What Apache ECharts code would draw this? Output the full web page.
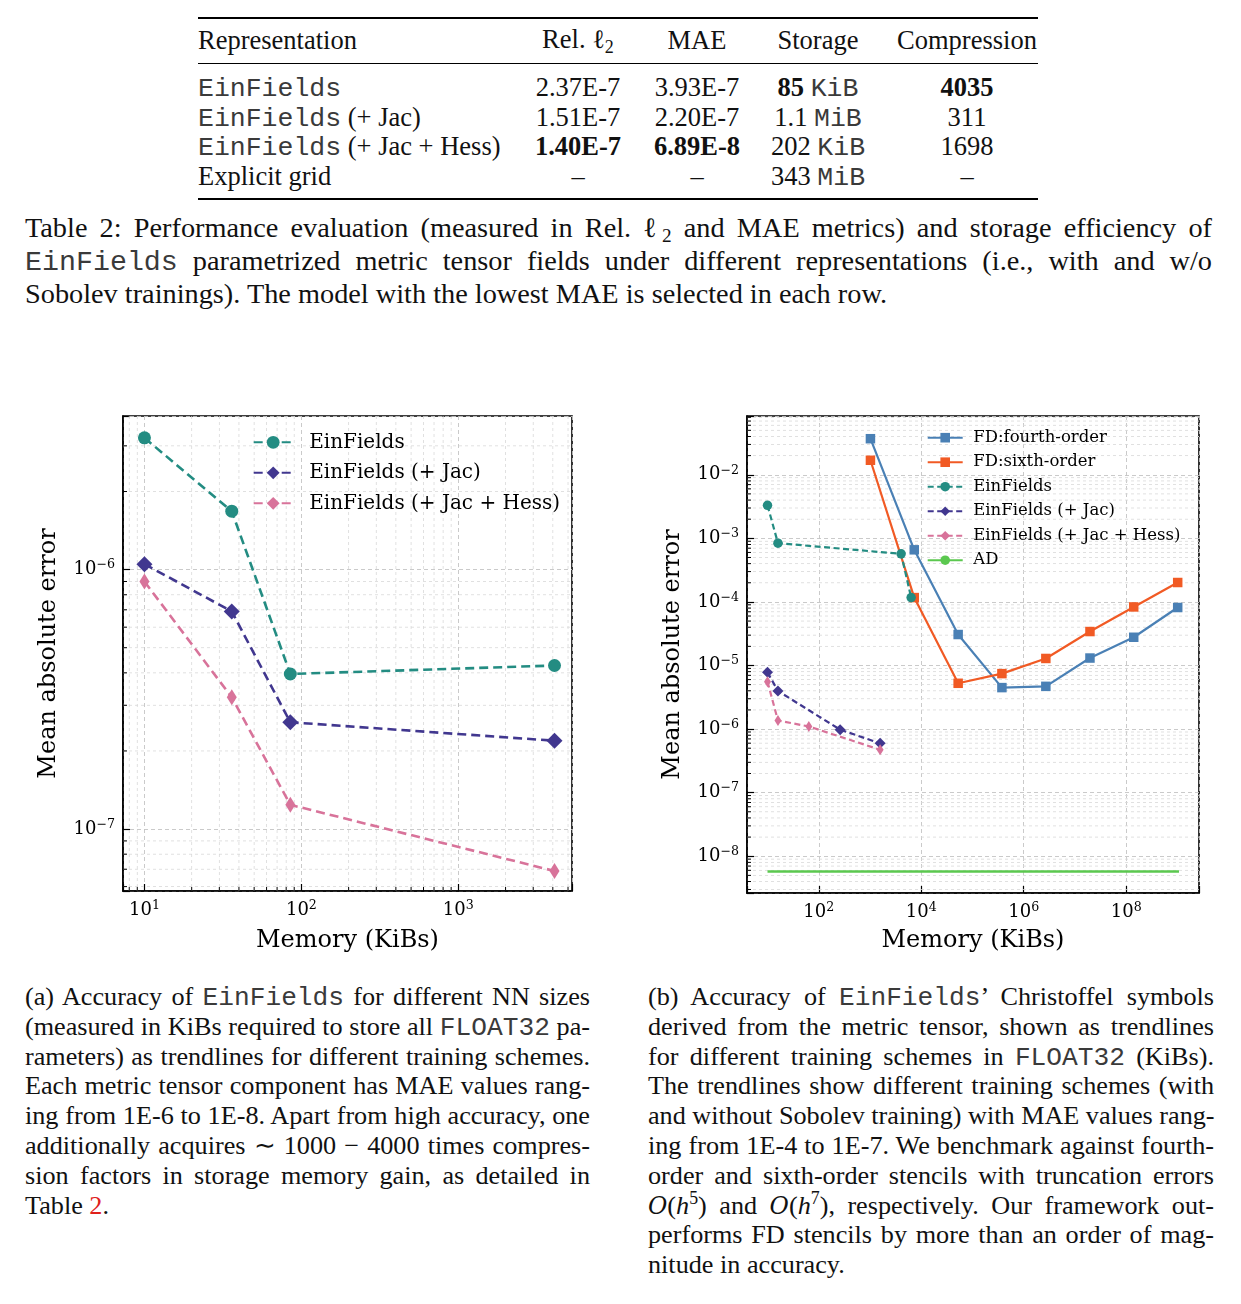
<!DOCTYPE html>
<html><head><meta charset="utf-8">
<script src="https://cdn.jsdelivr.net/npm/echarts@6/dist/echarts.min.js"></script>
<style>
html,body{margin:0;padding:0;background:#fff;}
body{width:1241px;height:1304px;position:relative;overflow:hidden;font-family:"Liberation Serif","Times New Roman",serif;color:#111;}
.tt{font-family:"Liberation Mono",monospace;color:#3a3a3a;}
#tbl{position:absolute;left:198px;top:17px;width:840px;border-collapse:collapse;table-layout:fixed;font-size:26.5px;}
#tbl td,#tbl th{padding:0;font-weight:normal;text-align:center;white-space:nowrap;line-height:29.7px;}
#tbl td *,#tbl th *{line-height:1;}
#tbl td.c0,#tbl th.c0{text-align:left;}
#tbl .c4{padding-left:28px;}
#tbl thead tr{height:45px;border-top:2.2px solid #000;border-bottom:1.2px solid #000;}
#tbl tbody tr.row td{height:29.7px;}
#tbl tbody tr.sp td{height:9.5px;line-height:0;font-size:0;}
#tbl tbody tr.spb td{height:6.5px;line-height:0;font-size:0;}
#tbl tbody tr.spb{border-bottom:2.2px solid #000;}
#tbl b{font-weight:bold;}
sub{font-size:0.68em;vertical-align:-0.28em;line-height:0;}
sup{font-size:0.68em;vertical-align:0.55em;line-height:0;}
.cap{position:absolute;}
.cap div{white-space:nowrap;text-align:justify;text-align-last:justify;}
.cap div.last{text-align-last:left;}
#cap2{left:25px;top:210.5px;width:1187px;font-size:28.3px;}
#cap2 div{height:33px;line-height:33px;}
#capA{left:25px;top:982px;width:565px;font-size:26.2px;}
#capB{left:648px;top:982px;width:566px;font-size:26.2px;}
#capA div,#capB div{height:29.8px;line-height:29.8px;}
.red{color:#e0201b;}
.cal{font-style:italic;font-family:"DejaVu Serif",serif;font-size:0.9em;}
#chartA{position:absolute;left:0;top:400px;width:620px;height:570px;}
#chartB{position:absolute;left:620px;top:400px;width:621px;height:570px;}
</style>
</head>
<body>
<table id="tbl"><thead></thead><tbody></tbody></table>

<div id="cap2" class="cap">
<div>Table 2: Performance evaluation (measured in Rel. ℓ<sub>2</sub> and MAE metrics) and storage efficiency of</div>
<div><span class="tt">EinFields</span> parametrized metric tensor fields under different representations (i.e., with and w/o</div>
<div class="last">Sobolev trainings). The model with the lowest MAE is selected in each row.</div>
</div>

<div id="chartA"></div>
<div id="chartB"></div>

<div id="capA" class="cap">
<div>(a) Accuracy of <span class="tt">EinFields</span> for different NN sizes</div>
<div>(measured in KiBs required to store all <span class="tt">FLOAT32</span> pa-</div>
<div>rameters) as trendlines for different training schemes.</div>
<div>Each metric tensor component has MAE values rang-</div>
<div>ing from 1E-6 to 1E-8. Apart from high accuracy, one</div>
<div>additionally acquires ∼ 1000 − 4000 times compres-</div>
<div>sion factors in storage memory gain, as detailed in</div>
<div class="last">Table <span class="red">2</span>.</div>
</div>

<div id="capB" class="cap">
<div>(b) Accuracy of <span class="tt">EinFields</span>’ Christoffel symbols</div>
<div>derived from the metric tensor, shown as trendlines</div>
<div>for different training schemes in <span class="tt">FLOAT32</span> (KiBs).</div>
<div>The trendlines show different training schemes (with</div>
<div>and without Sobolev training) with MAE values rang-</div>
<div>ing from 1E-4 to 1E-7. We benchmark against fourth-</div>
<div>order and sixth-order stencils with truncation errors</div>
<div><span class="cal">O</span>(<i>h</i><sup>5</sup>) and <span class="cal">O</span>(<i>h</i><sup>7</sup>), respectively. Our framework out-</div>
<div>performs FD stencils by more than an order of mag-</div>
<div class="last">nitude in accuracy.</div>
</div>

<script>
// ---------- Table data ----------
const tableHeader = ['Representation', 'Rel. ℓ2', 'MAE', 'Storage', 'Compression'];
const tableRep = ['EinFields', 'EinFields (+ Jac)', 'EinFields (+ Jac + Hess)', 'Explicit grid'];
const tableRel = ['2.37E-7', '1.51E-7', '1.40E-7', '–'];
const tableMAE = ['3.93E-7', '2.20E-7', '6.89E-8', '–'];
const tableStorageNum = ['85', '1.1', '202', '343'];
const tableStorageUnit = ['KiB', 'MiB', 'KiB', 'MiB'];
const tableCompression = ['4035', '311', '1698', '–'];
const boldRel = [2], boldMAE = [2], boldStorage = [0], boldComp = [0];

// ---------- Chart (a) data ----------
const memA = [10, 36, 85, 4100];
const maeA_Ein = [3.22e-6, 1.68e-6, 3.96e-7, 4.27e-7];
const maeA_Jac = [1.05e-6, 6.9e-7, 2.58e-7, 2.19e-7];
const maeA_Hess = [9.0e-7, 3.22e-7, 1.24e-7, 6.89e-8];

// ---------- Chart (b) data ----------
const memFD = [1.02e3, 7.3e3, 5.25e4, 3.75e5, 2.7e6, 1.96e7, 1.4e8, 1.01e9];
const maeFD4 = [3.69e-2, 6.6e-4, 3.07e-5, 4.49e-6, 4.7e-6, 1.31e-5, 2.78e-5, 8.17e-5];
const maeFD6 = [1.69e-2, 1.17e-4, 5.25e-6, 7.45e-6, 1.29e-5, 3.42e-5, 8.34e-5, 2.02e-4];
const memB_Ein = [10, 16, 4.05e3, 6.35e3];
const maeB_Ein = [3.3e-3, 8.4e-4, 5.7e-4, 1.17e-4];
const memB_Jac = [10, 16, 261, 1575];
const maeB_Jac = [7.8e-6, 3.97e-6, 9.8e-7, 5.96e-7];
const memB_Hess = [10, 16, 64, 1575];
const maeB_Hess = [5.57e-6, 1.36e-6, 1.10e-6, 4.73e-7];
const memAD = [10, 1.07e9];
const maeAD = [5.74e-9, 5.74e-9];

// ---------- minor tick helpers ----------
const minorMant = [2, 3, 4, 5, 6, 7, 8, 9];
const decA_x = [1, 10, 100, 1000];
const decA_y = [1e-8, 1e-7, 1e-6];
const decB_y = [1e-9, 1e-8, 1e-7, 1e-6, 1e-5, 1e-4, 1e-3, 1e-2];

// ---------- build table ----------
(function(){
  const mono = s => s.startsWith('EinFields') ? '<span class="tt">EinFields</span>' + s.slice(9) : s;
  const thead = document.querySelector('#tbl thead');
  const hdr = tableHeader.map((h, i) => {
    const t = h === 'Rel. ℓ2' ? 'Rel. ℓ<sub>2</sub>' : h;
    return '<th class="c' + i + '">' + t + '</th>';
  }).join('');
  thead.innerHTML = '<tr>' + hdr + '</tr>';
  const colg = document.createElement('colgroup');
  [332, 96, 142, 100, 170].forEach(w => { const c = document.createElement('col'); c.style.width = w + 'px'; colg.appendChild(c); });
  document.getElementById('tbl').insertBefore(colg, thead);
  const b = (s, on) => on ? '<b>' + s + '</b>' : s;
  let rows = '<tr class="sp"><td colspan="5"></td></tr>';
  tableRep.forEach((r, i) => {
    rows += '<tr class="row">' +
      '<td class="c0">' + mono(r) + '</td>' +
      '<td class="c1">' + b(tableRel[i], boldRel.includes(i)) + '</td>' +
      '<td class="c2">' + b(tableMAE[i], boldMAE.includes(i)) + '</td>' +
      '<td class="c3">' + b(tableStorageNum[i], boldStorage.includes(i)) + ' <span class="tt">' + tableStorageUnit[i] + '</span></td>' +
      '<td class="c4">' + b(tableCompression[i], boldComp.includes(i)) + '</td></tr>';
  });
  rows += '<tr class="spb"><td colspan="5"></td></tr>';
  document.querySelector('#tbl tbody').innerHTML = rows;
})();

// ---------- charts ----------
const SERIF = 'DejaVu Serif';
const TEAL = '#238c82', PURPLE = '#41378f', PINK = '#d8739a', BLUE = '#4a80b5', ORANGE = '#f15a24', GREEN = '#5bc84f';

function powLabel(v) {
  const l = Math.log10(v);
  const e = Math.round(l);
  if (Math.abs(l - e) > 1e-6) return '';
  const s = e < 0 ? '\u2212' + (-e) : String(e);
  return '{b|10}{e|' + s + '}';
}
function rich(fs) {
  return {
    b: {fontFamily: SERIF, fontSize: fs, color: '#000', lineHeight: fs + 4},
    e: {fontFamily: SERIF, fontSize: fs * 0.7, color: '#000', lineHeight: fs * 0.6, verticalAlign: 'top'}
  };
}
function minorList(decs, mant, lo, hi) {
  const out = [];
  decs.forEach(d => mant.forEach(m => { const v = m * d; if (v > lo && v < hi) out.push(v); }));
  return out;
}
function pairs(xs, ys) { return xs.map((x, i) => [x, ys[i]]); }

function axisBase(fs) {
  return {
    axisLine: {show: true, lineStyle: {color: '#000', width: 1.6}},
    axisTick: {show: true, inside: true, length: 7, lineStyle: {color: '#000', width: 1.2}},
    axisLabel: {formatter: powLabel, rich: rich(fs), color: '#000'},
    splitLine: {show: true, lineStyle: {type: [4, 3], color: '#c4c4c4', width: 0.9}},
    nameLocation: 'middle',
    nameTextStyle: {fontFamily: SERIF, fontSize: 24, color: '#000'}
  };
}
// minor grid lines + minor ticks, positioned through the axes (api.coord)
function minorGrid(vals, dir, ref) {
  return {
    type: 'custom', silent: true, z: 1, animation: false, clip: false,
    data: vals.map(v => dir === 'h' ? [ref, v] : [v, ref]),
    renderItem: function (params, api) {
      const cs = params.coordSys;
      const p = api.coord([api.value(0), api.value(1)]);
      const gs = {stroke: '#d9d9d9', lineWidth: 0.8, lineDash: [3, 3], fill: null};
      const ts = {stroke: '#000', lineWidth: 1, fill: null};
      if (dir === 'h') {
        return {type: 'group', children: [
          {type: 'line', shape: {x1: cs.x, y1: p[1], x2: cs.x + cs.width, y2: p[1]}, style: gs},
          {type: 'line', shape: {x1: cs.x, y1: p[1], x2: cs.x + 4, y2: p[1]}, style: ts}
        ]};
      }
      return {type: 'group', children: [
        {type: 'line', shape: {x1: p[0], y1: cs.y, x2: p[0], y2: cs.y + cs.height}, style: gs},
        {type: 'line', shape: {x1: p[0], y1: cs.y + cs.height - 4, x2: p[0], y2: cs.y + cs.height}, style: ts}
      ]};
    }
  };
}

// Chart A
const xMinA = 7.3, xMaxA = 5300, yMinA = 5.77e-8, yMaxA = 3.91e-6;
const chartA = echarts.init(document.getElementById('chartA'), null, {renderer: 'canvas'});
chartA.setOption({
  animation: false,
  grid: {left: 123, top: 16, width: 449, height: 475, show: true, borderColor: '#000', borderWidth: 1.6, backgroundColor: 'transparent', outerBoundsMode: 'none'},
  legend: {
    orient: 'vertical', left: 252.7, top: 31.3, padding: 0, itemWidth: 39, itemHeight: 16, itemGap: 8.5,
    textStyle: {fontFamily: SERIF, fontSize: 20, color: '#000', lineHeight: 22, padding: [0, 0, 0, 11.5]},
    data: ['EinFields', 'EinFields (+ Jac)', 'EinFields (+ Jac + Hess)'],
    selectedMode: false
  },
  xAxis: Object.assign(axisBase(18), {type: 'log', logBase: 10, min: xMinA, max: xMaxA, name: 'Memory (KiBs)', nameGap: 38}),
  yAxis: Object.assign(axisBase(18), {type: 'log', logBase: 10, min: yMinA, max: yMaxA, name: 'Mean absolute error', nameGap: 62}),
  series: [
    minorGrid(minorList(decA_x, minorMant, xMinA, xMaxA), 'v', yMinA),
    minorGrid(minorList(decA_y, minorMant, yMinA, yMaxA), 'h', xMinA),
    {name: 'EinFields', type: 'line', data: pairs(memA, maeA_Ein), symbol: 'circle', symbolSize: 13,
     lineStyle: {color: TEAL, width: 2.6, type: [9, 5]}, itemStyle: {color: TEAL}, z: 3},
    {name: 'EinFields (+ Jac)', type: 'line', data: pairs(memA, maeA_Jac), symbol: 'diamond', symbolSize: 16,
     lineStyle: {color: PURPLE, width: 2.6, type: [9, 5]}, itemStyle: {color: PURPLE}, z: 3},
    {name: 'EinFields (+ Jac + Hess)', type: 'line', data: pairs(memA, maeA_Hess), symbol: 'diamond', symbolSize: [10, 16],
     lineStyle: {color: PINK, width: 2.6, type: [9, 5]}, itemStyle: {color: PINK}, z: 3}
  ]
});

// Chart B
const xMinB = 3.98, xMaxB = 2.63e9, yMinB = 2.64e-9, yMaxB = 8.4e-2;
const chartB = echarts.init(document.getElementById('chartB'), null, {renderer: 'canvas'});
chartB.setOption({
  animation: false,
  grid: {left: 127, top: 16, width: 452, height: 477, show: true, borderColor: '#000', borderWidth: 1.6, backgroundColor: 'transparent', outerBoundsMode: 'none'},
  legend: {
    orient: 'vertical', left: 306.7, top: 29.2, padding: 0, itemWidth: 35, itemHeight: 12, itemGap: 7.5,
    textStyle: {fontFamily: SERIF, fontSize: 16.5, color: '#000', lineHeight: 17, padding: [0, 0, 0, 5.6]},
    data: ['FD:fourth-order', 'FD:sixth-order', 'EinFields', 'EinFields (+ Jac)', 'EinFields (+ Jac + Hess)', 'AD'],
    selectedMode: false
  },
  xAxis: Object.assign(axisBase(18), {type: 'log', logBase: 100, min: xMinB, max: xMaxB, name: 'Memory (KiBs)', nameGap: 36}),
  yAxis: Object.assign(axisBase(18), {type: 'log', logBase: 10, min: yMinB, max: yMaxB, name: 'Mean absolute error', nameGap: 62}),
  series: [
    minorGrid(minorList(decB_y, minorMant, yMinB, yMaxB), 'h', xMinB),
    {name: 'FD:fourth-order', type: 'line', data: pairs(memFD, maeFD4), symbol: 'rect', symbolSize: 9.5,
     lineStyle: {color: BLUE, width: 2.2}, itemStyle: {color: BLUE}, z: 3},
    {name: 'FD:sixth-order', type: 'line', data: pairs(memFD, maeFD6), symbol: 'rect', symbolSize: 9.5,
     lineStyle: {color: ORANGE, width: 2.2}, itemStyle: {color: ORANGE}, z: 3},
    {name: 'EinFields', type: 'line', data: pairs(memB_Ein, maeB_Ein), symbol: 'circle', symbolSize: 9.5,
     lineStyle: {color: TEAL, width: 2.2, type: [6, 3.5]}, itemStyle: {color: TEAL}, z: 4},
    {name: 'EinFields (+ Jac)', type: 'line', data: pairs(memB_Jac, maeB_Jac), symbol: 'diamond', symbolSize: 11,
     lineStyle: {color: PURPLE, width: 2.2, type: [6, 3.5]}, itemStyle: {color: PURPLE}, z: 4},
    {name: 'EinFields (+ Jac + Hess)', type: 'line', data: pairs(memB_Hess, maeB_Hess), symbol: 'diamond', symbolSize: [7, 11],
     lineStyle: {color: PINK, width: 2.2, type: [6, 3.5]}, itemStyle: {color: PINK}, z: 4},
    {name: 'AD', type: 'line', data: pairs(memAD, maeAD), symbol: 'none',
     lineStyle: {color: GREEN, width: 2.6}, itemStyle: {color: GREEN}, z: 3}
  ]
});
</script>
</body></html>
